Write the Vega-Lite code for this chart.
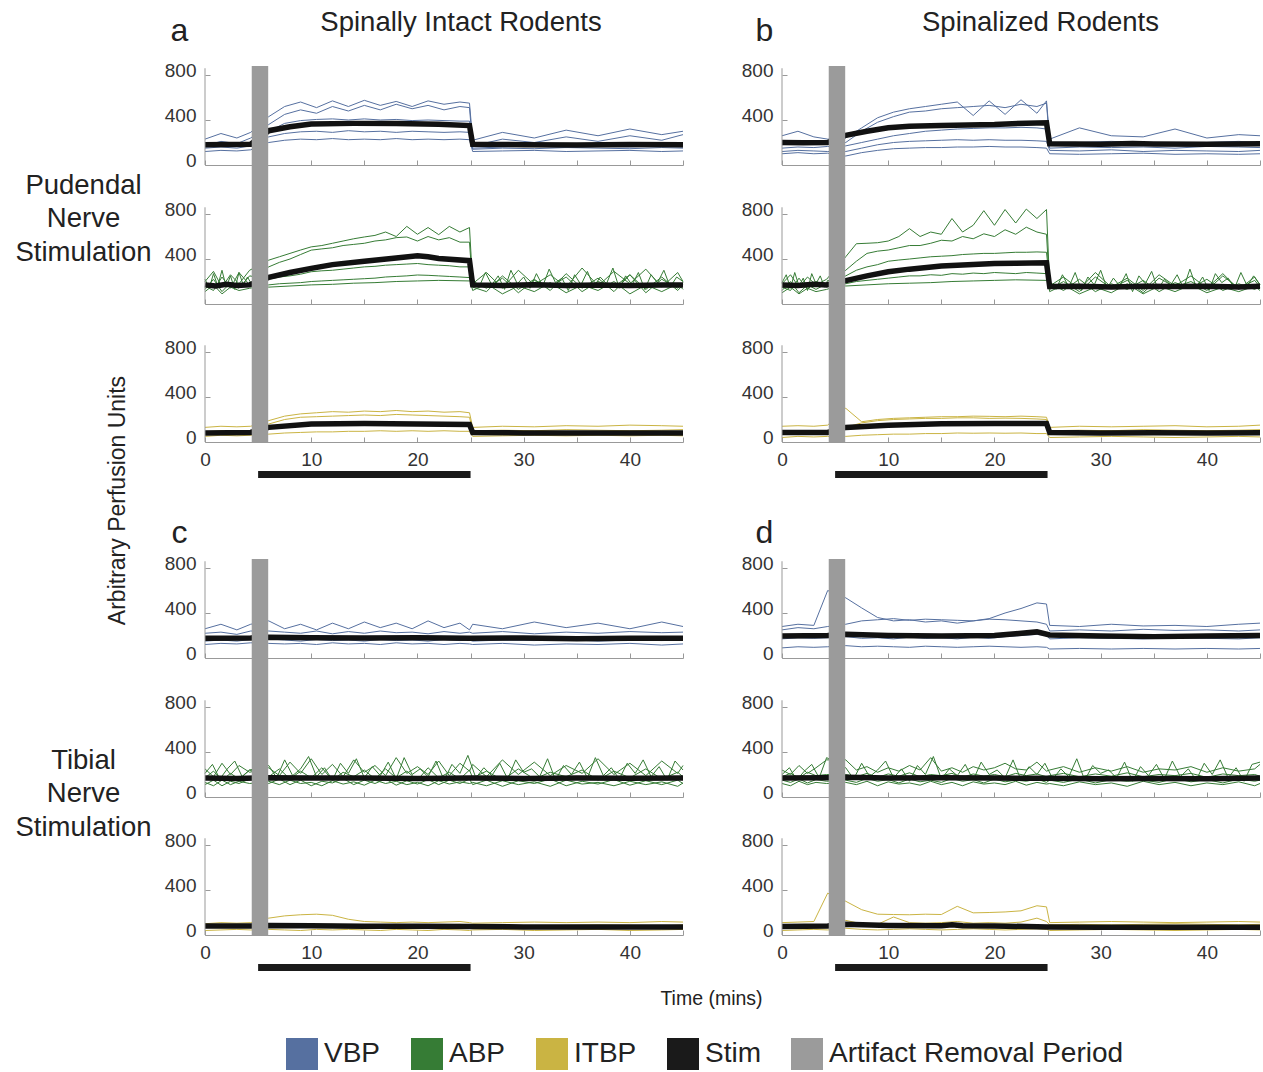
{
"$schema":"https://vega.github.io/schema/vega-lite/v6.json",
"background":"white",
"padding":{"left":14,"top":8,"right":4,"bottom":2},
"config":{
 "font":"Liberation Sans",
 "view":{"stroke":null},
 "axis":{"grid":false,"domainColor":"#999","tickColor":"#999","tickSize":-5,"labelFont":"Liberation Sans","labelFontSize":19,"labelColor":"#333","labelFlush":false,"labelOverlap":false,"titleFont":"Liberation Sans","titleFontWeight":"normal","titleColor":"#222"},
 "axisY":{"domain":false,"labelPadding":14,"labelOffset":-5},
 "axisX":{"labelPadding":13}
},
"datasets":{
"aV":[{"i":0,"t":0,"v":180},{"i":0,"t":2,"v":182},{"i":0,"t":4.3,"v":185},{"i":0,"t":6,"v":305},{"i":0,"t":8,"v":340},{"i":0,"t":10,"v":365},{"i":0,"t":14,"v":370},{"i":0,"t":18,"v":368},{"i":0,"t":22,"v":362},{"i":0,"t":24.9,"v":350},{"i":0,"t":25.2,"v":185},{"i":0,"t":30,"v":180},{"i":0,"t":35,"v":178},{"i":0,"t":40,"v":182},{"i":0,"t":45,"v":180},
{"i":1,"t":0,"v":230},{"i":1,"t":1.5,"v":280},{"i":1,"t":3,"v":240},{"i":1,"t":4.3,"v":290},{"i":1,"t":6,"v":430},{"i":1,"t":7.5,"v":520},{"i":1,"t":9,"v":560},{"i":1,"t":10.5,"v":510},{"i":1,"t":12,"v":570},{"i":1,"t":13.5,"v":520},{"i":1,"t":15,"v":575},{"i":1,"t":16.5,"v":530},{"i":1,"t":18,"v":565},{"i":1,"t":19.5,"v":520},{"i":1,"t":21,"v":570},{"i":1,"t":22.5,"v":540},{"i":1,"t":24,"v":560},{"i":1,"t":24.9,"v":550},{"i":1,"t":25.2,"v":220},{"i":1,"t":28,"v":290},{"i":1,"t":31,"v":240},{"i":1,"t":34,"v":310},{"i":1,"t":37,"v":260},{"i":1,"t":40,"v":320},{"i":1,"t":43,"v":270},{"i":1,"t":45,"v":300},
{"i":2,"t":0,"v":170},{"i":2,"t":1.5,"v":210},{"i":2,"t":3,"v":190},{"i":2,"t":4.3,"v":240},{"i":2,"t":6,"v":360},{"i":2,"t":7.5,"v":450},{"i":2,"t":9,"v":490},{"i":2,"t":10.5,"v":460},{"i":2,"t":12,"v":520},{"i":2,"t":13.5,"v":480},{"i":2,"t":15,"v":530},{"i":2,"t":16.5,"v":490},{"i":2,"t":18,"v":540},{"i":2,"t":19.5,"v":500},{"i":2,"t":21,"v":530},{"i":2,"t":22.5,"v":490},{"i":2,"t":24,"v":520},{"i":2,"t":24.9,"v":510},{"i":2,"t":25.2,"v":170},{"i":2,"t":28,"v":230},{"i":2,"t":31,"v":200},{"i":2,"t":34,"v":250},{"i":2,"t":37,"v":210},{"i":2,"t":40,"v":260},{"i":2,"t":43,"v":220},{"i":2,"t":45,"v":270},
{"i":3,"t":0,"v":150},{"i":3,"t":1.5,"v":160},{"i":3,"t":3,"v":150},{"i":3,"t":4.3,"v":170},{"i":3,"t":6,"v":300},{"i":3,"t":7.5,"v":370},{"i":3,"t":9,"v":395},{"i":3,"t":10.5,"v":405},{"i":3,"t":12,"v":410},{"i":3,"t":13.5,"v":400},{"i":3,"t":15,"v":410},{"i":3,"t":16.5,"v":400},{"i":3,"t":18,"v":405},{"i":3,"t":19.5,"v":395},{"i":3,"t":21,"v":400},{"i":3,"t":22.5,"v":395},{"i":3,"t":24,"v":390},{"i":3,"t":24.9,"v":390},{"i":3,"t":25.2,"v":150},{"i":3,"t":28,"v":160},{"i":3,"t":31,"v":170},{"i":3,"t":34,"v":155},{"i":3,"t":37,"v":165},{"i":3,"t":40,"v":160},{"i":3,"t":43,"v":170},{"i":3,"t":45,"v":160},
{"i":4,"t":0,"v":160},{"i":4,"t":1.5,"v":175},{"i":4,"t":3,"v":165},{"i":4,"t":4.3,"v":180},{"i":4,"t":6,"v":250},{"i":4,"t":7.5,"v":280},{"i":4,"t":9,"v":295},{"i":4,"t":10.5,"v":300},{"i":4,"t":12,"v":290},{"i":4,"t":13.5,"v":305},{"i":4,"t":15,"v":295},{"i":4,"t":16.5,"v":300},{"i":4,"t":18,"v":290},{"i":4,"t":19.5,"v":300},{"i":4,"t":21,"v":295},{"i":4,"t":22.5,"v":290},{"i":4,"t":24,"v":295},{"i":4,"t":24.9,"v":290},{"i":4,"t":25.2,"v":140},{"i":4,"t":28,"v":150},{"i":4,"t":31,"v":145},{"i":4,"t":34,"v":155},{"i":4,"t":37,"v":150},{"i":4,"t":40,"v":145},{"i":4,"t":43,"v":155},{"i":4,"t":45,"v":150},
{"i":5,"t":0,"v":120},{"i":5,"t":1.5,"v":130},{"i":5,"t":3,"v":125},{"i":5,"t":4.3,"v":135},{"i":5,"t":6,"v":200},{"i":5,"t":7.5,"v":220},{"i":5,"t":9,"v":230},{"i":5,"t":10.5,"v":225},{"i":5,"t":12,"v":235},{"i":5,"t":13.5,"v":225},{"i":5,"t":15,"v":230},{"i":5,"t":16.5,"v":225},{"i":5,"t":18,"v":235},{"i":5,"t":19.5,"v":225},{"i":5,"t":21,"v":230},{"i":5,"t":22.5,"v":225},{"i":5,"t":24,"v":230},{"i":5,"t":24.9,"v":225},{"i":5,"t":25.2,"v":120},{"i":5,"t":28,"v":125},{"i":5,"t":31,"v":130},{"i":5,"t":34,"v":120},{"i":5,"t":37,"v":125},{"i":5,"t":40,"v":130},{"i":5,"t":43,"v":120},{"i":5,"t":45,"v":125}],
"aA":[{"i":0,"t":0,"v":170},{"i":0,"t":1,"v":160},{"i":0,"t":2,"v":175},{"i":0,"t":3,"v":165},{"i":0,"t":4.2,"v":170},{"i":0,"t":6,"v":237},{"i":0,"t":8,"v":280},{"i":0,"t":10,"v":317},{"i":0,"t":12,"v":350},{"i":0,"t":15,"v":380},{"i":0,"t":18,"v":410},{"i":0,"t":20,"v":430},{"i":0,"t":21,"v":420},{"i":0,"t":22,"v":405},{"i":0,"t":24.9,"v":385},{"i":0,"t":25.2,"v":170},{"i":0,"t":28,"v":165},{"i":0,"t":31,"v":172},{"i":0,"t":34,"v":165},{"i":0,"t":37,"v":170},{"i":0,"t":40,"v":165},{"i":0,"t":43,"v":170},{"i":0,"t":45,"v":168},
{"i":1,"t":0,"v":200},{"i":1,"t":0.8,"v":290},{"i":1,"t":1.6,"v":150},{"i":1,"t":2.4,"v":260},{"i":1,"t":3.2,"v":180},{"i":1,"t":4.2,"v":300},{"i":1,"t":6,"v":390},{"i":1,"t":7,"v":420},{"i":1,"t":8,"v":450},{"i":1,"t":9,"v":480},{"i":1,"t":10,"v":508},{"i":1,"t":11,"v":520},{"i":1,"t":12,"v":540},{"i":1,"t":13,"v":560},{"i":1,"t":14,"v":580},{"i":1,"t":15,"v":596},{"i":1,"t":16,"v":610},{"i":1,"t":17,"v":640},{"i":1,"t":18,"v":600},{"i":1,"t":19,"v":690},{"i":1,"t":20,"v":620},{"i":1,"t":21,"v":680},{"i":1,"t":22,"v":617},{"i":1,"t":23,"v":690},{"i":1,"t":24,"v":640},{"i":1,"t":24.9,"v":680},{"i":1,"t":25.2,"v":180},{"i":1,"t":26.5,"v":280},{"i":1,"t":28,"v":140},{"i":1,"t":29.5,"v":300},{"i":1,"t":31,"v":170},{"i":1,"t":32.5,"v":260},{"i":1,"t":34,"v":150},{"i":1,"t":35.5,"v":320},{"i":1,"t":37,"v":160},{"i":1,"t":38.5,"v":290},{"i":1,"t":40,"v":180},{"i":1,"t":41.5,"v":310},{"i":1,"t":43,"v":150},{"i":1,"t":44.5,"v":280},{"i":1,"t":45,"v":200},
{"i":2,"t":0,"v":160},{"i":2,"t":0.8,"v":120},{"i":2,"t":1.6,"v":240},{"i":2,"t":2.4,"v":140},{"i":2,"t":3.2,"v":280},{"i":2,"t":4.2,"v":170},{"i":2,"t":6,"v":330},{"i":2,"t":7,"v":370},{"i":2,"t":8,"v":400},{"i":2,"t":9,"v":440},{"i":2,"t":10,"v":479},{"i":2,"t":11,"v":490},{"i":2,"t":12,"v":500},{"i":2,"t":13,"v":520},{"i":2,"t":14,"v":530},{"i":2,"t":15,"v":540},{"i":2,"t":16,"v":560},{"i":2,"t":17,"v":570},{"i":2,"t":18,"v":590},{"i":2,"t":19,"v":596},{"i":2,"t":20,"v":560},{"i":2,"t":21,"v":600},{"i":2,"t":22,"v":570},{"i":2,"t":23,"v":590},{"i":2,"t":24,"v":550},{"i":2,"t":24.9,"v":550},{"i":2,"t":25.2,"v":150},{"i":2,"t":26.5,"v":110},{"i":2,"t":28,"v":250},{"i":2,"t":29.5,"v":130},{"i":2,"t":31,"v":220},{"i":2,"t":32.5,"v":120},{"i":2,"t":34,"v":270},{"i":2,"t":35.5,"v":140},{"i":2,"t":37,"v":230},{"i":2,"t":38.5,"v":110},{"i":2,"t":40,"v":260},{"i":2,"t":41.5,"v":130},{"i":2,"t":43,"v":240},{"i":2,"t":44.5,"v":120},{"i":2,"t":45,"v":170},
{"i":3,"t":0,"v":130},{"i":3,"t":0.8,"v":220},{"i":3,"t":1.6,"v":110},{"i":3,"t":2.4,"v":190},{"i":3,"t":3.2,"v":140},{"i":3,"t":4.2,"v":250},{"i":3,"t":6,"v":220},{"i":3,"t":7,"v":240},{"i":3,"t":8,"v":250},{"i":3,"t":9,"v":265},{"i":3,"t":10,"v":287},{"i":3,"t":11,"v":295},{"i":3,"t":12,"v":300},{"i":3,"t":13,"v":310},{"i":3,"t":14,"v":320},{"i":3,"t":15,"v":330},{"i":3,"t":16,"v":335},{"i":3,"t":17,"v":345},{"i":3,"t":18,"v":350},{"i":3,"t":19,"v":355},{"i":3,"t":20,"v":360},{"i":3,"t":21,"v":350},{"i":3,"t":22,"v":345},{"i":3,"t":23,"v":340},{"i":3,"t":24,"v":330},{"i":3,"t":24.9,"v":330},{"i":3,"t":25.2,"v":200},{"i":3,"t":26.5,"v":140},{"i":3,"t":28,"v":230},{"i":3,"t":29.5,"v":100},{"i":3,"t":31,"v":210},{"i":3,"t":32.5,"v":150},{"i":3,"t":34,"v":240},{"i":3,"t":35.5,"v":110},{"i":3,"t":37,"v":200},{"i":3,"t":38.5,"v":150},{"i":3,"t":40,"v":260},{"i":3,"t":41.5,"v":100},{"i":3,"t":43,"v":220},{"i":3,"t":44.5,"v":140},{"i":3,"t":45,"v":190},
{"i":4,"t":0,"v":110},{"i":4,"t":0.8,"v":170},{"i":4,"t":1.6,"v":90},{"i":4,"t":2.4,"v":150},{"i":4,"t":3.2,"v":120},{"i":4,"t":4.2,"v":140},{"i":4,"t":6,"v":170},{"i":4,"t":7,"v":180},{"i":4,"t":8,"v":185},{"i":4,"t":9,"v":190},{"i":4,"t":10,"v":200},{"i":4,"t":11,"v":205},{"i":4,"t":12,"v":210},{"i":4,"t":13,"v":215},{"i":4,"t":14,"v":220},{"i":4,"t":15,"v":225},{"i":4,"t":16,"v":230},{"i":4,"t":17,"v":240},{"i":4,"t":18,"v":245},{"i":4,"t":19,"v":250},{"i":4,"t":20,"v":258},{"i":4,"t":21,"v":255},{"i":4,"t":22,"v":250},{"i":4,"t":23,"v":245},{"i":4,"t":24,"v":240},{"i":4,"t":24.9,"v":235},{"i":4,"t":25.2,"v":120},{"i":4,"t":26.5,"v":180},{"i":4,"t":28,"v":90},{"i":4,"t":29.5,"v":160},{"i":4,"t":31,"v":110},{"i":4,"t":32.5,"v":190},{"i":4,"t":34,"v":100},{"i":4,"t":35.5,"v":170},{"i":4,"t":37,"v":120},{"i":4,"t":38.5,"v":200},{"i":4,"t":40,"v":90},{"i":4,"t":41.5,"v":170},{"i":4,"t":43,"v":110},{"i":4,"t":44.5,"v":180},{"i":4,"t":45,"v":130},
{"i":5,"t":0,"v":220},{"i":5,"t":0.4,"v":140},{"i":5,"t":0.8,"v":270},{"i":5,"t":1.2,"v":160},{"i":5,"t":1.6,"v":300},{"i":5,"t":2,"v":150},{"i":5,"t":2.4,"v":250},{"i":5,"t":2.8,"v":130},{"i":5,"t":3.2,"v":280},{"i":5,"t":3.6,"v":170},{"i":5,"t":4,"v":240},{"i":5,"t":4.3,"v":190},{"i":5,"t":6,"v":150},{"i":5,"t":8,"v":160},{"i":5,"t":10,"v":170},{"i":5,"t":12,"v":175},{"i":5,"t":14,"v":185},{"i":5,"t":16,"v":190},{"i":5,"t":18,"v":200},{"i":5,"t":20,"v":205},{"i":5,"t":22,"v":210},{"i":5,"t":24.9,"v":205},{"i":5,"t":25.2,"v":230},{"i":5,"t":25.8,"v":150},{"i":5,"t":26.4,"v":280},{"i":5,"t":27,"v":170},{"i":5,"t":27.6,"v":250},{"i":5,"t":28.2,"v":130},{"i":5,"t":28.8,"v":300},{"i":5,"t":29.4,"v":180},{"i":5,"t":30,"v":240},{"i":5,"t":30.6,"v":140},{"i":5,"t":31.2,"v":270},{"i":5,"t":31.8,"v":160},{"i":5,"t":32.4,"v":310},{"i":5,"t":33,"v":190},{"i":5,"t":33.6,"v":230},{"i":5,"t":34.2,"v":120},{"i":5,"t":34.8,"v":260},{"i":5,"t":35.4,"v":170},{"i":5,"t":36,"v":290},{"i":5,"t":36.6,"v":150},{"i":5,"t":37.2,"v":240},{"i":5,"t":37.8,"v":180},{"i":5,"t":38.4,"v":320},{"i":5,"t":39,"v":140},{"i":5,"t":39.6,"v":250},{"i":5,"t":40.2,"v":170},{"i":5,"t":40.8,"v":280},{"i":5,"t":41.4,"v":130},{"i":5,"t":42,"v":260},{"i":5,"t":42.6,"v":190},{"i":5,"t":43.2,"v":300},{"i":5,"t":43.8,"v":150},{"i":5,"t":44.4,"v":240},{"i":5,"t":45,"v":200}],
"aI":[{"i":0,"t":0,"v":80},{"i":0,"t":4.3,"v":85},{"i":0,"t":6,"v":130},{"i":0,"t":10,"v":160},{"i":0,"t":15,"v":165},{"i":0,"t":20,"v":160},{"i":0,"t":24.9,"v":155},{"i":0,"t":25.2,"v":85},{"i":0,"t":30,"v":80},{"i":0,"t":45,"v":80},
{"i":1,"t":0,"v":130},{"i":1,"t":1.5,"v":140},{"i":1,"t":3,"v":135},{"i":1,"t":4.3,"v":140},{"i":1,"t":6,"v":190},{"i":1,"t":7.5,"v":230},{"i":1,"t":9,"v":250},{"i":1,"t":10.5,"v":260},{"i":1,"t":12,"v":270},{"i":1,"t":13.5,"v":265},{"i":1,"t":15,"v":275},{"i":1,"t":16.5,"v":270},{"i":1,"t":18,"v":280},{"i":1,"t":19.5,"v":270},{"i":1,"t":21,"v":275},{"i":1,"t":22.5,"v":265},{"i":1,"t":24,"v":270},{"i":1,"t":24.9,"v":260},{"i":1,"t":25.2,"v":130},{"i":1,"t":28,"v":140},{"i":1,"t":31,"v":135},{"i":1,"t":34,"v":145},{"i":1,"t":37,"v":140},{"i":1,"t":40,"v":150},{"i":1,"t":43,"v":145},{"i":1,"t":45,"v":140},
{"i":2,"t":0,"v":90},{"i":2,"t":1.5,"v":100},{"i":2,"t":3,"v":95},{"i":2,"t":4.3,"v":100},{"i":2,"t":6,"v":160},{"i":2,"t":7.5,"v":200},{"i":2,"t":9,"v":220},{"i":2,"t":10.5,"v":225},{"i":2,"t":12,"v":230},{"i":2,"t":13.5,"v":235},{"i":2,"t":15,"v":240},{"i":2,"t":16.5,"v":235},{"i":2,"t":18,"v":245},{"i":2,"t":19.5,"v":240},{"i":2,"t":21,"v":235},{"i":2,"t":22.5,"v":230},{"i":2,"t":24,"v":225},{"i":2,"t":24.9,"v":220},{"i":2,"t":25.2,"v":100},{"i":2,"t":28,"v":105},{"i":2,"t":31,"v":100},{"i":2,"t":34,"v":110},{"i":2,"t":37,"v":105},{"i":2,"t":40,"v":100},{"i":2,"t":43,"v":105},{"i":2,"t":45,"v":110},
{"i":3,"t":0,"v":50},{"i":3,"t":1.5,"v":60},{"i":3,"t":3,"v":55},{"i":3,"t":4.3,"v":60},{"i":3,"t":6,"v":70},{"i":3,"t":7.5,"v":80},{"i":3,"t":9,"v":85},{"i":3,"t":10.5,"v":90},{"i":3,"t":12,"v":90},{"i":3,"t":13.5,"v":95},{"i":3,"t":15,"v":95},{"i":3,"t":16.5,"v":100},{"i":3,"t":18,"v":95},{"i":3,"t":19.5,"v":100},{"i":3,"t":21,"v":95},{"i":3,"t":22.5,"v":100},{"i":3,"t":24,"v":95},{"i":3,"t":24.9,"v":95},{"i":3,"t":25.2,"v":50},{"i":3,"t":28,"v":55},{"i":3,"t":31,"v":60},{"i":3,"t":34,"v":55},{"i":3,"t":37,"v":60},{"i":3,"t":40,"v":55},{"i":3,"t":43,"v":60},{"i":3,"t":45,"v":55}],
"bV":[{"i":0,"t":0,"v":200},{"i":0,"t":2,"v":198},{"i":0,"t":4.3,"v":200},{"i":0,"t":6,"v":264},{"i":0,"t":8,"v":300},{"i":0,"t":10,"v":331},{"i":0,"t":12,"v":345},{"i":0,"t":15,"v":351},{"i":0,"t":20,"v":360},{"i":0,"t":23,"v":372},{"i":0,"t":24.9,"v":375},{"i":0,"t":25.2,"v":188},{"i":0,"t":30,"v":185},{"i":0,"t":33,"v":190},{"i":0,"t":35,"v":187},{"i":0,"t":40,"v":185},{"i":0,"t":45,"v":188},
{"i":1,"t":0,"v":260},{"i":1,"t":1.5,"v":300},{"i":1,"t":3,"v":250},{"i":1,"t":4.3,"v":230},{"i":1,"t":6,"v":240},{"i":1,"t":7.5,"v":330},{"i":1,"t":9,"v":420},{"i":1,"t":10.5,"v":470},{"i":1,"t":12,"v":500},{"i":1,"t":13.5,"v":520},{"i":1,"t":15,"v":540},{"i":1,"t":16.5,"v":560},{"i":1,"t":18,"v":440},{"i":1,"t":19.5,"v":570},{"i":1,"t":21,"v":450},{"i":1,"t":22.5,"v":580},{"i":1,"t":24,"v":460},{"i":1,"t":24.9,"v":570},{"i":1,"t":25.2,"v":230},{"i":1,"t":28,"v":330},{"i":1,"t":31,"v":260},{"i":1,"t":34,"v":250},{"i":1,"t":37,"v":320},{"i":1,"t":40,"v":240},{"i":1,"t":43,"v":270},{"i":1,"t":45,"v":260},
{"i":2,"t":0,"v":180},{"i":2,"t":1.5,"v":200},{"i":2,"t":3,"v":190},{"i":2,"t":4.3,"v":210},{"i":2,"t":6,"v":200},{"i":2,"t":7.5,"v":300},{"i":2,"t":9,"v":380},{"i":2,"t":10.5,"v":430},{"i":2,"t":12,"v":470},{"i":2,"t":13.5,"v":480},{"i":2,"t":15,"v":500},{"i":2,"t":16.5,"v":510},{"i":2,"t":18,"v":520},{"i":2,"t":19.5,"v":530},{"i":2,"t":21,"v":510},{"i":2,"t":22.5,"v":540},{"i":2,"t":24,"v":520},{"i":2,"t":24.9,"v":550},{"i":2,"t":25.2,"v":190},{"i":2,"t":28,"v":200},{"i":2,"t":31,"v":210},{"i":2,"t":34,"v":200},{"i":2,"t":37,"v":190},{"i":2,"t":40,"v":200},{"i":2,"t":43,"v":210},{"i":2,"t":45,"v":200},
{"i":3,"t":0,"v":150},{"i":3,"t":1.5,"v":160},{"i":3,"t":3,"v":155},{"i":3,"t":4.3,"v":165},{"i":3,"t":6,"v":170},{"i":3,"t":7.5,"v":200},{"i":3,"t":9,"v":230},{"i":3,"t":10.5,"v":260},{"i":3,"t":12,"v":280},{"i":3,"t":13.5,"v":300},{"i":3,"t":15,"v":310},{"i":3,"t":16.5,"v":320},{"i":3,"t":18,"v":325},{"i":3,"t":19.5,"v":330},{"i":3,"t":21,"v":330},{"i":3,"t":22.5,"v":335},{"i":3,"t":24,"v":330},{"i":3,"t":24.9,"v":320},{"i":3,"t":25.2,"v":150},{"i":3,"t":28,"v":160},{"i":3,"t":31,"v":155},{"i":3,"t":34,"v":160},{"i":3,"t":37,"v":150},{"i":3,"t":40,"v":165},{"i":3,"t":43,"v":160},{"i":3,"t":45,"v":155},
{"i":4,"t":0,"v":120},{"i":4,"t":1.5,"v":130},{"i":4,"t":3,"v":125},{"i":4,"t":4.3,"v":120},{"i":4,"t":6,"v":120},{"i":4,"t":7.5,"v":150},{"i":4,"t":9,"v":180},{"i":4,"t":10.5,"v":200},{"i":4,"t":12,"v":210},{"i":4,"t":13.5,"v":215},{"i":4,"t":15,"v":220},{"i":4,"t":16.5,"v":225},{"i":4,"t":18,"v":220},{"i":4,"t":19.5,"v":225},{"i":4,"t":21,"v":220},{"i":4,"t":22.5,"v":220},{"i":4,"t":24,"v":215},{"i":4,"t":24.9,"v":210},{"i":4,"t":25.2,"v":130},{"i":4,"t":28,"v":125},{"i":4,"t":31,"v":135},{"i":4,"t":34,"v":120},{"i":4,"t":37,"v":130},{"i":4,"t":40,"v":125},{"i":4,"t":43,"v":120},{"i":4,"t":45,"v":130},
{"i":5,"t":0,"v":100},{"i":5,"t":1.5,"v":110},{"i":5,"t":3,"v":100},{"i":5,"t":4.3,"v":105},{"i":5,"t":6,"v":80},{"i":5,"t":7.5,"v":110},{"i":5,"t":9,"v":130},{"i":5,"t":10.5,"v":145},{"i":5,"t":12,"v":150},{"i":5,"t":13.5,"v":155},{"i":5,"t":15,"v":155},{"i":5,"t":16.5,"v":160},{"i":5,"t":18,"v":160},{"i":5,"t":19.5,"v":165},{"i":5,"t":21,"v":160},{"i":5,"t":22.5,"v":160},{"i":5,"t":24,"v":155},{"i":5,"t":24.9,"v":150},{"i":5,"t":25.2,"v":100},{"i":5,"t":28,"v":95},{"i":5,"t":31,"v":100},{"i":5,"t":34,"v":105},{"i":5,"t":37,"v":95},{"i":5,"t":40,"v":100},{"i":5,"t":43,"v":95},{"i":5,"t":45,"v":100}],
"bA":[{"i":0,"t":0,"v":170},{"i":0,"t":1.5,"v":165},{"i":0,"t":3,"v":175},{"i":0,"t":4.2,"v":170},{"i":0,"t":6,"v":208},{"i":0,"t":8,"v":250},{"i":0,"t":10,"v":287},{"i":0,"t":12,"v":310},{"i":0,"t":15,"v":337},{"i":0,"t":18,"v":352},{"i":0,"t":20,"v":360},{"i":0,"t":22,"v":362},{"i":0,"t":24.9,"v":366},{"i":0,"t":25.2,"v":155},{"i":0,"t":28,"v":158},{"i":0,"t":31,"v":152},{"i":0,"t":34,"v":158},{"i":0,"t":37,"v":155},{"i":0,"t":40,"v":158},{"i":0,"t":43,"v":152},{"i":0,"t":45,"v":157},
{"i":1,"t":0,"v":180},{"i":1,"t":0.8,"v":260},{"i":1,"t":1.6,"v":150},{"i":1,"t":2.4,"v":240},{"i":1,"t":3.2,"v":170},{"i":1,"t":4.2,"v":220},{"i":1,"t":6,"v":420},{"i":1,"t":7,"v":536},{"i":1,"t":8,"v":540},{"i":1,"t":9,"v":545},{"i":1,"t":10,"v":560},{"i":1,"t":11,"v":600},{"i":1,"t":12,"v":670},{"i":1,"t":13,"v":600},{"i":1,"t":14,"v":640},{"i":1,"t":15,"v":620},{"i":1,"t":16,"v":760},{"i":1,"t":17,"v":640},{"i":1,"t":18,"v":700},{"i":1,"t":19,"v":830},{"i":1,"t":20,"v":700},{"i":1,"t":21,"v":840},{"i":1,"t":22,"v":720},{"i":1,"t":23,"v":844},{"i":1,"t":24,"v":760},{"i":1,"t":24.9,"v":840},{"i":1,"t":25.2,"v":160},{"i":1,"t":26.5,"v":240},{"i":1,"t":28,"v":130},{"i":1,"t":29.5,"v":280},{"i":1,"t":31,"v":150},{"i":1,"t":32.5,"v":230},{"i":1,"t":34,"v":120},{"i":1,"t":35.5,"v":260},{"i":1,"t":37,"v":160},{"i":1,"t":38.5,"v":250},{"i":1,"t":40,"v":140},{"i":1,"t":41.5,"v":270},{"i":1,"t":43,"v":130},{"i":1,"t":44.5,"v":240},{"i":1,"t":45,"v":170},
{"i":2,"t":0,"v":150},{"i":2,"t":0.8,"v":120},{"i":2,"t":1.6,"v":230},{"i":2,"t":2.4,"v":130},{"i":2,"t":3.2,"v":200},{"i":2,"t":4.2,"v":160},{"i":2,"t":6,"v":300},{"i":2,"t":7,"v":380},{"i":2,"t":8,"v":450},{"i":2,"t":9,"v":470},{"i":2,"t":10,"v":480},{"i":2,"t":11,"v":500},{"i":2,"t":12,"v":520},{"i":2,"t":13,"v":520},{"i":2,"t":14,"v":540},{"i":2,"t":15,"v":567},{"i":2,"t":16,"v":560},{"i":2,"t":17,"v":600},{"i":2,"t":18,"v":580},{"i":2,"t":19,"v":624},{"i":2,"t":20,"v":600},{"i":2,"t":21,"v":660},{"i":2,"t":22,"v":620},{"i":2,"t":23,"v":683},{"i":2,"t":24,"v":640},{"i":2,"t":24.9,"v":620},{"i":2,"t":25.2,"v":130},{"i":2,"t":26.5,"v":200},{"i":2,"t":28,"v":110},{"i":2,"t":29.5,"v":240},{"i":2,"t":31,"v":140},{"i":2,"t":32.5,"v":210},{"i":2,"t":34,"v":100},{"i":2,"t":35.5,"v":230},{"i":2,"t":37,"v":150},{"i":2,"t":38.5,"v":200},{"i":2,"t":40,"v":120},{"i":2,"t":41.5,"v":250},{"i":2,"t":43,"v":140},{"i":2,"t":44.5,"v":210},{"i":2,"t":45,"v":150},
{"i":3,"t":0,"v":120},{"i":3,"t":0.8,"v":200},{"i":3,"t":1.6,"v":100},{"i":3,"t":2.4,"v":170},{"i":3,"t":3.2,"v":130},{"i":3,"t":4.2,"v":180},{"i":3,"t":6,"v":250},{"i":3,"t":7,"v":300},{"i":3,"t":8,"v":330},{"i":3,"t":9,"v":350},{"i":3,"t":10,"v":380},{"i":3,"t":11,"v":391},{"i":3,"t":12,"v":400},{"i":3,"t":13,"v":410},{"i":3,"t":14,"v":420},{"i":3,"t":15,"v":425},{"i":3,"t":16,"v":430},{"i":3,"t":17,"v":440},{"i":3,"t":18,"v":445},{"i":3,"t":19,"v":450},{"i":3,"t":20,"v":450},{"i":3,"t":21,"v":455},{"i":3,"t":22,"v":460},{"i":3,"t":23,"v":460},{"i":3,"t":24,"v":463},{"i":3,"t":24.9,"v":460},{"i":3,"t":25.2,"v":190},{"i":3,"t":26.5,"v":120},{"i":3,"t":28,"v":220},{"i":3,"t":29.5,"v":110},{"i":3,"t":31,"v":180},{"i":3,"t":32.5,"v":130},{"i":3,"t":34,"v":210},{"i":3,"t":35.5,"v":110},{"i":3,"t":37,"v":190},{"i":3,"t":38.5,"v":140},{"i":3,"t":40,"v":220},{"i":3,"t":41.5,"v":120},{"i":3,"t":43,"v":180},{"i":3,"t":44.5,"v":130},{"i":3,"t":45,"v":160},
{"i":4,"t":0,"v":100},{"i":4,"t":0.8,"v":150},{"i":4,"t":1.6,"v":90},{"i":4,"t":2.4,"v":140},{"i":4,"t":3.2,"v":110},{"i":4,"t":4.2,"v":130},{"i":4,"t":6,"v":180},{"i":4,"t":7,"v":200},{"i":4,"t":8,"v":210},{"i":4,"t":9,"v":220},{"i":4,"t":10,"v":230},{"i":4,"t":11,"v":240},{"i":4,"t":12,"v":250},{"i":4,"t":13,"v":250},{"i":4,"t":14,"v":260},{"i":4,"t":15,"v":255},{"i":4,"t":16,"v":270},{"i":4,"t":17,"v":265},{"i":4,"t":18,"v":275},{"i":4,"t":19,"v":270},{"i":4,"t":20,"v":280},{"i":4,"t":21,"v":275},{"i":4,"t":22,"v":270},{"i":4,"t":23,"v":280},{"i":4,"t":24,"v":275},{"i":4,"t":24.9,"v":270},{"i":4,"t":25.2,"v":110},{"i":4,"t":26.5,"v":170},{"i":4,"t":28,"v":90},{"i":4,"t":29.5,"v":150},{"i":4,"t":31,"v":100},{"i":4,"t":32.5,"v":180},{"i":4,"t":34,"v":90},{"i":4,"t":35.5,"v":160},{"i":4,"t":37,"v":110},{"i":4,"t":38.5,"v":170},{"i":4,"t":40,"v":100},{"i":4,"t":41.5,"v":150},{"i":4,"t":43,"v":110},{"i":4,"t":44.5,"v":160},{"i":4,"t":45,"v":120},
{"i":5,"t":0,"v":190},{"i":5,"t":0.4,"v":260},{"i":5,"t":0.8,"v":140},{"i":5,"t":1.2,"v":280},{"i":5,"t":1.6,"v":160},{"i":5,"t":2,"v":230},{"i":5,"t":2.4,"v":120},{"i":5,"t":2.8,"v":270},{"i":5,"t":3.2,"v":180},{"i":5,"t":3.6,"v":250},{"i":5,"t":4,"v":150},{"i":5,"t":4.3,"v":210},{"i":5,"t":6,"v":160},{"i":5,"t":8,"v":170},{"i":5,"t":10,"v":180},{"i":5,"t":12,"v":185},{"i":5,"t":14,"v":190},{"i":5,"t":16,"v":200},{"i":5,"t":18,"v":205},{"i":5,"t":20,"v":210},{"i":5,"t":22,"v":215},{"i":5,"t":24.9,"v":210},{"i":5,"t":25.2,"v":200},{"i":5,"t":25.8,"v":130},{"i":5,"t":26.4,"v":260},{"i":5,"t":27,"v":150},{"i":5,"t":27.6,"v":280},{"i":5,"t":28.2,"v":120},{"i":5,"t":28.8,"v":240},{"i":5,"t":29.4,"v":170},{"i":5,"t":30,"v":300},{"i":5,"t":30.6,"v":140},{"i":5,"t":31.2,"v":230},{"i":5,"t":31.8,"v":160},{"i":5,"t":32.4,"v":270},{"i":5,"t":33,"v":110},{"i":5,"t":33.6,"v":250},{"i":5,"t":34.2,"v":180},{"i":5,"t":34.8,"v":290},{"i":5,"t":35.4,"v":130},{"i":5,"t":36,"v":220},{"i":5,"t":36.6,"v":170},{"i":5,"t":37.2,"v":260},{"i":5,"t":37.8,"v":140},{"i":5,"t":38.4,"v":310},{"i":5,"t":39,"v":150},{"i":5,"t":39.6,"v":240},{"i":5,"t":40.2,"v":120},{"i":5,"t":40.8,"v":270},{"i":5,"t":41.4,"v":190},{"i":5,"t":42,"v":230},{"i":5,"t":42.6,"v":140},{"i":5,"t":43.2,"v":280},{"i":5,"t":43.8,"v":160},{"i":5,"t":44.4,"v":250},{"i":5,"t":45,"v":170}],
"bI":[{"i":0,"t":0,"v":85},{"i":0,"t":4.3,"v":85},{"i":0,"t":6,"v":130},{"i":0,"t":10,"v":150},{"i":0,"t":15,"v":162},{"i":0,"t":20,"v":165},{"i":0,"t":24.9,"v":165},{"i":0,"t":25.2,"v":85},{"i":0,"t":30,"v":80},{"i":0,"t":35,"v":82},{"i":0,"t":40,"v":80},{"i":0,"t":45,"v":82},
{"i":1,"t":0,"v":140},{"i":1,"t":1.5,"v":145},{"i":1,"t":3,"v":140},{"i":1,"t":4.3,"v":150},{"i":1,"t":6,"v":300},{"i":1,"t":7.5,"v":180},{"i":1,"t":9,"v":200},{"i":1,"t":10.5,"v":210},{"i":1,"t":12,"v":215},{"i":1,"t":13.5,"v":220},{"i":1,"t":15,"v":225},{"i":1,"t":16.5,"v":225},{"i":1,"t":18,"v":230},{"i":1,"t":19.5,"v":228},{"i":1,"t":21,"v":225},{"i":1,"t":22.5,"v":230},{"i":1,"t":24,"v":225},{"i":1,"t":24.9,"v":220},{"i":1,"t":25.2,"v":130},{"i":1,"t":28,"v":140},{"i":1,"t":31,"v":135},{"i":1,"t":34,"v":140},{"i":1,"t":37,"v":145},{"i":1,"t":40,"v":135},{"i":1,"t":43,"v":140},{"i":1,"t":45,"v":150},
{"i":2,"t":0,"v":95},{"i":2,"t":1.5,"v":100},{"i":2,"t":3,"v":95},{"i":2,"t":4.3,"v":100},{"i":2,"t":6,"v":130},{"i":2,"t":7.5,"v":170},{"i":2,"t":9,"v":190},{"i":2,"t":10.5,"v":200},{"i":2,"t":12,"v":205},{"i":2,"t":13.5,"v":210},{"i":2,"t":15,"v":210},{"i":2,"t":16.5,"v":215},{"i":2,"t":18,"v":215},{"i":2,"t":19.5,"v":210},{"i":2,"t":21,"v":212},{"i":2,"t":22.5,"v":210},{"i":2,"t":24,"v":205},{"i":2,"t":24.9,"v":200},{"i":2,"t":25.2,"v":100},{"i":2,"t":28,"v":105},{"i":2,"t":31,"v":100},{"i":2,"t":34,"v":110},{"i":2,"t":37,"v":105},{"i":2,"t":40,"v":100},{"i":2,"t":43,"v":105},{"i":2,"t":45,"v":110},
{"i":3,"t":0,"v":40},{"i":3,"t":1.5,"v":50},{"i":3,"t":3,"v":45},{"i":3,"t":4.3,"v":50},{"i":3,"t":6,"v":50},{"i":3,"t":7.5,"v":60},{"i":3,"t":9,"v":65},{"i":3,"t":10.5,"v":70},{"i":3,"t":12,"v":70},{"i":3,"t":13.5,"v":75},{"i":3,"t":15,"v":75},{"i":3,"t":16.5,"v":80},{"i":3,"t":18,"v":78},{"i":3,"t":19.5,"v":80},{"i":3,"t":21,"v":78},{"i":3,"t":22.5,"v":80},{"i":3,"t":24,"v":75},{"i":3,"t":24.9,"v":75},{"i":3,"t":25.2,"v":40},{"i":3,"t":28,"v":45},{"i":3,"t":31,"v":50},{"i":3,"t":34,"v":45},{"i":3,"t":37,"v":40},{"i":3,"t":40,"v":45},{"i":3,"t":43,"v":50},{"i":3,"t":45,"v":45}],
"cV":[{"i":0,"t":0,"v":175},{"i":0,"t":4.3,"v":178},{"i":0,"t":6,"v":185},{"i":0,"t":10,"v":180},{"i":0,"t":15,"v":178},{"i":0,"t":20,"v":180},{"i":0,"t":25,"v":175},{"i":0,"t":30,"v":178},{"i":0,"t":35,"v":172},{"i":0,"t":40,"v":175},{"i":0,"t":45,"v":175},
{"i":1,"t":0,"v":260},{"i":1,"t":1.5,"v":300},{"i":1,"t":3,"v":250},{"i":1,"t":4.3,"v":300},{"i":1,"t":6,"v":330},{"i":1,"t":7.5,"v":260},{"i":1,"t":9,"v":300},{"i":1,"t":10.5,"v":250},{"i":1,"t":12,"v":310},{"i":1,"t":13.5,"v":260},{"i":1,"t":15,"v":320},{"i":1,"t":16.5,"v":270},{"i":1,"t":18,"v":310},{"i":1,"t":19.5,"v":260},{"i":1,"t":21,"v":330},{"i":1,"t":22.5,"v":270},{"i":1,"t":24,"v":310},{"i":1,"t":24.9,"v":250},{"i":1,"t":25.2,"v":300},{"i":1,"t":28,"v":260},{"i":1,"t":31,"v":320},{"i":1,"t":34,"v":270},{"i":1,"t":37,"v":310},{"i":1,"t":40,"v":260},{"i":1,"t":43,"v":320},{"i":1,"t":45,"v":280},
{"i":2,"t":0,"v":220},{"i":2,"t":1.5,"v":230},{"i":2,"t":3,"v":210},{"i":2,"t":4.3,"v":240},{"i":2,"t":6,"v":240},{"i":2,"t":7.5,"v":230},{"i":2,"t":9,"v":220},{"i":2,"t":10.5,"v":240},{"i":2,"t":12,"v":215},{"i":2,"t":13.5,"v":235},{"i":2,"t":15,"v":220},{"i":2,"t":16.5,"v":240},{"i":2,"t":18,"v":225},{"i":2,"t":19.5,"v":230},{"i":2,"t":21,"v":215},{"i":2,"t":22.5,"v":235},{"i":2,"t":24,"v":220},{"i":2,"t":24.9,"v":230},{"i":2,"t":25.2,"v":220},{"i":2,"t":28,"v":235},{"i":2,"t":31,"v":215},{"i":2,"t":34,"v":230},{"i":2,"t":37,"v":220},{"i":2,"t":40,"v":235},{"i":2,"t":43,"v":225},{"i":2,"t":45,"v":230},
{"i":3,"t":0,"v":150},{"i":3,"t":1.5,"v":160},{"i":3,"t":3,"v":150},{"i":3,"t":4.3,"v":165},{"i":3,"t":6,"v":170},{"i":3,"t":7.5,"v":160},{"i":3,"t":9,"v":150},{"i":3,"t":10.5,"v":165},{"i":3,"t":12,"v":155},{"i":3,"t":13.5,"v":160},{"i":3,"t":15,"v":150},{"i":3,"t":16.5,"v":165},{"i":3,"t":18,"v":155},{"i":3,"t":19.5,"v":160},{"i":3,"t":21,"v":150},{"i":3,"t":22.5,"v":165},{"i":3,"t":24,"v":155},{"i":3,"t":24.9,"v":160},{"i":3,"t":25.2,"v":150},{"i":3,"t":28,"v":160},{"i":3,"t":31,"v":155},{"i":3,"t":34,"v":165},{"i":3,"t":37,"v":150},{"i":3,"t":40,"v":160},{"i":3,"t":43,"v":155},{"i":3,"t":45,"v":160},
{"i":4,"t":0,"v":120},{"i":4,"t":1.5,"v":130},{"i":4,"t":3,"v":125},{"i":4,"t":4.3,"v":135},{"i":4,"t":6,"v":130},{"i":4,"t":7.5,"v":125},{"i":4,"t":9,"v":130},{"i":4,"t":10.5,"v":120},{"i":4,"t":12,"v":135},{"i":4,"t":13.5,"v":125},{"i":4,"t":15,"v":130},{"i":4,"t":16.5,"v":120},{"i":4,"t":18,"v":135},{"i":4,"t":19.5,"v":125},{"i":4,"t":21,"v":130},{"i":4,"t":22.5,"v":120},{"i":4,"t":24,"v":130},{"i":4,"t":24.9,"v":125},{"i":4,"t":25.2,"v":120},{"i":4,"t":28,"v":130},{"i":4,"t":31,"v":115},{"i":4,"t":34,"v":125},{"i":4,"t":37,"v":120},{"i":4,"t":40,"v":130},{"i":4,"t":43,"v":115},{"i":4,"t":45,"v":125}],
"cA":[{"i":0,"t":0,"v":170},{"i":0,"t":3,"v":165},{"i":0,"t":6,"v":172},{"i":0,"t":10,"v":168},{"i":0,"t":15,"v":170},{"i":0,"t":20,"v":165},{"i":0,"t":25,"v":168},{"i":0,"t":30,"v":165},{"i":0,"t":35,"v":170},{"i":0,"t":40,"v":166},{"i":0,"t":45,"v":168},
{"i":1,"t":0,"v":250},{"i":1,"t":0.8,"v":180},{"i":1,"t":1.6,"v":300},{"i":1,"t":2.4,"v":200},{"i":1,"t":3.2,"v":280},{"i":1,"t":4.2,"v":220},{"i":1,"t":6,"v":260},{"i":1,"t":7,"v":190},{"i":1,"t":8,"v":310},{"i":1,"t":9,"v":210},{"i":1,"t":10,"v":340},{"i":1,"t":11,"v":200},{"i":1,"t":12,"v":290},{"i":1,"t":13,"v":180},{"i":1,"t":14,"v":330},{"i":1,"t":15,"v":220},{"i":1,"t":16,"v":280},{"i":1,"t":17,"v":190},{"i":1,"t":18,"v":350},{"i":1,"t":19,"v":210},{"i":1,"t":20,"v":270},{"i":1,"t":21,"v":200},{"i":1,"t":22,"v":320},{"i":1,"t":23,"v":190},{"i":1,"t":24,"v":300},{"i":1,"t":24.9,"v":230},{"i":1,"t":25.2,"v":290},{"i":1,"t":26.5,"v":180},{"i":1,"t":28,"v":330},{"i":1,"t":29.5,"v":200},{"i":1,"t":31,"v":310},{"i":1,"t":32.5,"v":190},{"i":1,"t":34,"v":280},{"i":1,"t":35.5,"v":210},{"i":1,"t":37,"v":340},{"i":1,"t":38.5,"v":200},{"i":1,"t":40,"v":300},{"i":1,"t":41.5,"v":190},{"i":1,"t":43,"v":320},{"i":1,"t":44.5,"v":210},{"i":1,"t":45,"v":280},
{"i":2,"t":0,"v":170},{"i":2,"t":0.8,"v":230},{"i":2,"t":1.6,"v":150},{"i":2,"t":2.4,"v":210},{"i":2,"t":3.2,"v":160},{"i":2,"t":4.2,"v":240},{"i":2,"t":6,"v":180},{"i":2,"t":7,"v":250},{"i":2,"t":8,"v":160},{"i":2,"t":9,"v":230},{"i":2,"t":10,"v":170},{"i":2,"t":11,"v":260},{"i":2,"t":12,"v":150},{"i":2,"t":13,"v":220},{"i":2,"t":14,"v":180},{"i":2,"t":15,"v":240},{"i":2,"t":16,"v":160},{"i":2,"t":17,"v":250},{"i":2,"t":18,"v":170},{"i":2,"t":19,"v":230},{"i":2,"t":20,"v":150},{"i":2,"t":21,"v":260},{"i":2,"t":22,"v":170},{"i":2,"t":23,"v":220},{"i":2,"t":24,"v":160},{"i":2,"t":24.9,"v":240},{"i":2,"t":25.2,"v":170},{"i":2,"t":26.5,"v":230},{"i":2,"t":28,"v":150},{"i":2,"t":29.5,"v":250},{"i":2,"t":31,"v":160},{"i":2,"t":32.5,"v":220},{"i":2,"t":34,"v":180},{"i":2,"t":35.5,"v":240},{"i":2,"t":37,"v":150},{"i":2,"t":38.5,"v":230},{"i":2,"t":40,"v":170},{"i":2,"t":41.5,"v":250},{"i":2,"t":43,"v":160},{"i":2,"t":44.5,"v":220},{"i":2,"t":45,"v":180},
{"i":3,"t":0,"v":130},{"i":3,"t":0.8,"v":100},{"i":3,"t":1.6,"v":150},{"i":3,"t":2.4,"v":110},{"i":3,"t":3.2,"v":140},{"i":3,"t":4.2,"v":120},{"i":3,"t":6,"v":140},{"i":3,"t":7,"v":110},{"i":3,"t":8,"v":150},{"i":3,"t":9,"v":120},{"i":3,"t":10,"v":130},{"i":3,"t":11,"v":100},{"i":3,"t":12,"v":145},{"i":3,"t":13,"v":115},{"i":3,"t":14,"v":135},{"i":3,"t":15,"v":105},{"i":3,"t":16,"v":150},{"i":3,"t":17,"v":120},{"i":3,"t":18,"v":140},{"i":3,"t":19,"v":110},{"i":3,"t":20,"v":130},{"i":3,"t":21,"v":100},{"i":3,"t":22,"v":145},{"i":3,"t":23,"v":115},{"i":3,"t":24,"v":135},{"i":3,"t":24.9,"v":120},{"i":3,"t":25.2,"v":130},{"i":3,"t":26.5,"v":100},{"i":3,"t":28,"v":145},{"i":3,"t":29.5,"v":110},{"i":3,"t":31,"v":135},{"i":3,"t":32.5,"v":95},{"i":3,"t":34,"v":150},{"i":3,"t":35.5,"v":115},{"i":3,"t":37,"v":130},{"i":3,"t":38.5,"v":100},{"i":3,"t":40,"v":140},{"i":3,"t":41.5,"v":110},{"i":3,"t":43,"v":135},{"i":3,"t":44.5,"v":95},{"i":3,"t":45,"v":125},
{"i":4,"t":0,"v":110},{"i":4,"t":0.8,"v":150},{"i":4,"t":1.6,"v":100},{"i":4,"t":2.4,"v":140},{"i":4,"t":3.2,"v":120},{"i":4,"t":4.2,"v":160},{"i":4,"t":6,"v":120},{"i":4,"t":7,"v":160},{"i":4,"t":8,"v":110},{"i":4,"t":9,"v":150},{"i":4,"t":10,"v":100},{"i":4,"t":11,"v":140},{"i":4,"t":12,"v":125},{"i":4,"t":13,"v":165},{"i":4,"t":14,"v":110},{"i":4,"t":15,"v":150},{"i":4,"t":16,"v":120},{"i":4,"t":17,"v":160},{"i":4,"t":18,"v":105},{"i":4,"t":19,"v":145},{"i":4,"t":20,"v":115},{"i":4,"t":21,"v":155},{"i":4,"t":22,"v":110},{"i":4,"t":23,"v":150},{"i":4,"t":24,"v":120},{"i":4,"t":24.9,"v":160},{"i":4,"t":25.2,"v":110},{"i":4,"t":26.5,"v":150},{"i":4,"t":28,"v":95},{"i":4,"t":29.5,"v":145},{"i":4,"t":31,"v":120},{"i":4,"t":32.5,"v":160},{"i":4,"t":34,"v":100},{"i":4,"t":35.5,"v":140},{"i":4,"t":37,"v":115},{"i":4,"t":38.5,"v":155},{"i":4,"t":40,"v":105},{"i":4,"t":41.5,"v":145},{"i":4,"t":43,"v":110},{"i":4,"t":44.5,"v":150},{"i":4,"t":45,"v":120},
{"i":5,"t":0,"v":210},{"i":5,"t":0.7,"v":290},{"i":5,"t":1.4,"v":160},{"i":5,"t":2.1,"v":250},{"i":5,"t":2.8,"v":320},{"i":5,"t":3.5,"v":180},{"i":5,"t":4.2,"v":240},{"i":5,"t":6,"v":280},{"i":5,"t":6.75,"v":170},{"i":5,"t":7.5,"v":330},{"i":5,"t":8.25,"v":190},{"i":5,"t":9,"v":250},{"i":5,"t":9.75,"v":360},{"i":5,"t":10.5,"v":180},{"i":5,"t":11.25,"v":260},{"i":5,"t":12,"v":150},{"i":5,"t":12.75,"v":300},{"i":5,"t":13.5,"v":210},{"i":5,"t":14.25,"v":340},{"i":5,"t":15,"v":170},{"i":5,"t":15.75,"v":270},{"i":5,"t":16.5,"v":190},{"i":5,"t":17.25,"v":310},{"i":5,"t":18,"v":160},{"i":5,"t":18.75,"v":350},{"i":5,"t":19.5,"v":200},{"i":5,"t":20.25,"v":250},{"i":5,"t":21,"v":180},{"i":5,"t":21.75,"v":320},{"i":5,"t":22.5,"v":150},{"i":5,"t":23.25,"v":290},{"i":5,"t":24,"v":210},{"i":5,"t":24.75,"v":370},{"i":5,"t":25.5,"v":170},{"i":5,"t":26.25,"v":260},{"i":5,"t":27,"v":190},{"i":5,"t":27.75,"v":300},{"i":5,"t":28.5,"v":160},{"i":5,"t":29.25,"v":330},{"i":5,"t":30,"v":220},{"i":5,"t":30.75,"v":250},{"i":5,"t":31.5,"v":180},{"i":5,"t":32.25,"v":340},{"i":5,"t":33,"v":150},{"i":5,"t":33.75,"v":280},{"i":5,"t":34.5,"v":200},{"i":5,"t":35.25,"v":310},{"i":5,"t":36,"v":170},{"i":5,"t":36.75,"v":350},{"i":5,"t":37.5,"v":190},{"i":5,"t":38.25,"v":260},{"i":5,"t":39,"v":160},{"i":5,"t":39.75,"v":300},{"i":5,"t":40.5,"v":210},{"i":5,"t":41.25,"v":330},{"i":5,"t":42,"v":180},{"i":5,"t":42.75,"v":270},{"i":5,"t":43.5,"v":150},{"i":5,"t":44.25,"v":320},{"i":5,"t":45,"v":240}],
"cI":[{"i":0,"t":0,"v":80},{"i":0,"t":4.3,"v":80},{"i":0,"t":6,"v":85},{"i":0,"t":10,"v":82},{"i":0,"t":15,"v":78},{"i":0,"t":20,"v":78},{"i":0,"t":25,"v":75},{"i":0,"t":30,"v":72},{"i":0,"t":35,"v":72},{"i":0,"t":40,"v":72},{"i":0,"t":45,"v":72},
{"i":1,"t":0,"v":100},{"i":1,"t":1.5,"v":110},{"i":1,"t":3,"v":105},{"i":1,"t":4.3,"v":110},{"i":1,"t":6,"v":150},{"i":1,"t":7.5,"v":170},{"i":1,"t":9,"v":180},{"i":1,"t":10.5,"v":185},{"i":1,"t":12,"v":175},{"i":1,"t":13.5,"v":140},{"i":1,"t":15,"v":120},{"i":1,"t":16.5,"v":115},{"i":1,"t":18,"v":110},{"i":1,"t":19.5,"v":115},{"i":1,"t":21,"v":110},{"i":1,"t":22.5,"v":115},{"i":1,"t":24,"v":120},{"i":1,"t":24.9,"v":110},{"i":1,"t":25.2,"v":105},{"i":1,"t":28,"v":110},{"i":1,"t":31,"v":115},{"i":1,"t":34,"v":110},{"i":1,"t":37,"v":115},{"i":1,"t":40,"v":110},{"i":1,"t":43,"v":120},{"i":1,"t":45,"v":115},
{"i":2,"t":0,"v":80},{"i":2,"t":1.5,"v":85},{"i":2,"t":3,"v":80},{"i":2,"t":4.3,"v":90},{"i":2,"t":6,"v":95},{"i":2,"t":7.5,"v":90},{"i":2,"t":9,"v":85},{"i":2,"t":10.5,"v":90},{"i":2,"t":12,"v":95},{"i":2,"t":13.5,"v":90},{"i":2,"t":15,"v":85},{"i":2,"t":16.5,"v":90},{"i":2,"t":18,"v":95},{"i":2,"t":19.5,"v":90},{"i":2,"t":21,"v":85},{"i":2,"t":22.5,"v":90},{"i":2,"t":24,"v":95},{"i":2,"t":24.9,"v":90},{"i":2,"t":25.2,"v":85},{"i":2,"t":28,"v":90},{"i":2,"t":31,"v":80},{"i":2,"t":34,"v":85},{"i":2,"t":37,"v":90},{"i":2,"t":40,"v":85},{"i":2,"t":43,"v":80},{"i":2,"t":45,"v":90},
{"i":3,"t":0,"v":40},{"i":3,"t":1.5,"v":45},{"i":3,"t":3,"v":50},{"i":3,"t":4.3,"v":45},{"i":3,"t":6,"v":50},{"i":3,"t":7.5,"v":45},{"i":3,"t":9,"v":40},{"i":3,"t":10.5,"v":50},{"i":3,"t":12,"v":45},{"i":3,"t":13.5,"v":50},{"i":3,"t":15,"v":45},{"i":3,"t":16.5,"v":40},{"i":3,"t":18,"v":50},{"i":3,"t":19.5,"v":45},{"i":3,"t":21,"v":40},{"i":3,"t":22.5,"v":50},{"i":3,"t":24,"v":45},{"i":3,"t":24.9,"v":40},{"i":3,"t":25.2,"v":45},{"i":3,"t":28,"v":50},{"i":3,"t":31,"v":40},{"i":3,"t":34,"v":45},{"i":3,"t":37,"v":50},{"i":3,"t":40,"v":40},{"i":3,"t":43,"v":45},{"i":3,"t":45,"v":50}],
"dV":[{"i":0,"t":0,"v":195},{"i":0,"t":4.3,"v":200},{"i":0,"t":6,"v":210},{"i":0,"t":10,"v":200},{"i":0,"t":15,"v":195},{"i":0,"t":20,"v":200},{"i":0,"t":22,"v":215},{"i":0,"t":24,"v":232},{"i":0,"t":25.2,"v":205},{"i":0,"t":30,"v":195},{"i":0,"t":35,"v":190},{"i":0,"t":40,"v":195},{"i":0,"t":45,"v":200},
{"i":1,"t":0,"v":280},{"i":1,"t":1.5,"v":300},{"i":1,"t":3,"v":290},{"i":1,"t":4.3,"v":600},{"i":1,"t":6,"v":535},{"i":1,"t":7.5,"v":445},{"i":1,"t":9,"v":360},{"i":1,"t":10.5,"v":330},{"i":1,"t":12,"v":340},{"i":1,"t":13.5,"v":320},{"i":1,"t":15,"v":330},{"i":1,"t":16.5,"v":310},{"i":1,"t":18,"v":330},{"i":1,"t":19.5,"v":350},{"i":1,"t":21,"v":400},{"i":1,"t":22.5,"v":440},{"i":1,"t":24,"v":490},{"i":1,"t":24.9,"v":480},{"i":1,"t":25.2,"v":290},{"i":1,"t":28,"v":280},{"i":1,"t":31,"v":300},{"i":1,"t":34,"v":285},{"i":1,"t":37,"v":290},{"i":1,"t":40,"v":280},{"i":1,"t":43,"v":300},{"i":1,"t":45,"v":310},
{"i":2,"t":0,"v":250},{"i":2,"t":1.5,"v":270},{"i":2,"t":3,"v":260},{"i":2,"t":4.3,"v":280},{"i":2,"t":6,"v":300},{"i":2,"t":7.5,"v":330},{"i":2,"t":9,"v":340},{"i":2,"t":10.5,"v":350},{"i":2,"t":12,"v":335},{"i":2,"t":13.5,"v":345},{"i":2,"t":15,"v":340},{"i":2,"t":16.5,"v":335},{"i":2,"t":18,"v":330},{"i":2,"t":19.5,"v":345},{"i":2,"t":21,"v":340},{"i":2,"t":22.5,"v":330},{"i":2,"t":24,"v":320},{"i":2,"t":24.9,"v":300},{"i":2,"t":25.2,"v":240},{"i":2,"t":28,"v":250},{"i":2,"t":31,"v":240},{"i":2,"t":34,"v":255},{"i":2,"t":37,"v":245},{"i":2,"t":40,"v":250},{"i":2,"t":43,"v":240},{"i":2,"t":45,"v":250},
{"i":3,"t":0,"v":170},{"i":3,"t":1.5,"v":180},{"i":3,"t":3,"v":175},{"i":3,"t":4.3,"v":180},{"i":3,"t":6,"v":190},{"i":3,"t":7.5,"v":175},{"i":3,"t":9,"v":180},{"i":3,"t":10.5,"v":170},{"i":3,"t":12,"v":185},{"i":3,"t":13.5,"v":175},{"i":3,"t":15,"v":180},{"i":3,"t":16.5,"v":170},{"i":3,"t":18,"v":185},{"i":3,"t":19.5,"v":175},{"i":3,"t":21,"v":190},{"i":3,"t":22.5,"v":200},{"i":3,"t":24,"v":210},{"i":3,"t":24.9,"v":200},{"i":3,"t":25.2,"v":170},{"i":3,"t":28,"v":180},{"i":3,"t":31,"v":175},{"i":3,"t":34,"v":170},{"i":3,"t":37,"v":180},{"i":3,"t":40,"v":175},{"i":3,"t":43,"v":170},{"i":3,"t":45,"v":180},
{"i":4,"t":0,"v":90},{"i":4,"t":1.5,"v":100},{"i":4,"t":3,"v":95},{"i":4,"t":4.3,"v":100},{"i":4,"t":6,"v":110},{"i":4,"t":7.5,"v":100},{"i":4,"t":9,"v":105},{"i":4,"t":10.5,"v":100},{"i":4,"t":12,"v":95},{"i":4,"t":13.5,"v":105},{"i":4,"t":15,"v":100},{"i":4,"t":16.5,"v":95},{"i":4,"t":18,"v":100},{"i":4,"t":19.5,"v":105},{"i":4,"t":21,"v":100},{"i":4,"t":22.5,"v":95},{"i":4,"t":24,"v":100},{"i":4,"t":24.9,"v":95},{"i":4,"t":25.2,"v":80},{"i":4,"t":28,"v":85},{"i":4,"t":31,"v":80},{"i":4,"t":34,"v":85},{"i":4,"t":37,"v":80},{"i":4,"t":40,"v":85},{"i":4,"t":43,"v":80},{"i":4,"t":45,"v":85}],
"dA":[{"i":0,"t":0,"v":170},{"i":0,"t":4.2,"v":172},{"i":0,"t":6,"v":175},{"i":0,"t":10,"v":170},{"i":0,"t":15,"v":172},{"i":0,"t":20,"v":168},{"i":0,"t":25,"v":166},{"i":0,"t":30,"v":162},{"i":0,"t":35,"v":165},{"i":0,"t":40,"v":163},{"i":0,"t":45,"v":168},
{"i":1,"t":0,"v":240},{"i":1,"t":0.8,"v":200},{"i":1,"t":1.6,"v":280},{"i":1,"t":2.4,"v":210},{"i":1,"t":3.2,"v":260},{"i":1,"t":4.2,"v":330},{"i":1,"t":6,"v":330},{"i":1,"t":7,"v":240},{"i":1,"t":8,"v":270},{"i":1,"t":9,"v":220},{"i":1,"t":10,"v":260},{"i":1,"t":11,"v":230},{"i":1,"t":12,"v":280},{"i":1,"t":13,"v":240},{"i":1,"t":14,"v":350},{"i":1,"t":15,"v":230},{"i":1,"t":16,"v":260},{"i":1,"t":17,"v":220},{"i":1,"t":18,"v":270},{"i":1,"t":19,"v":240},{"i":1,"t":20,"v":260},{"i":1,"t":21,"v":300},{"i":1,"t":22,"v":250},{"i":1,"t":23,"v":240},{"i":1,"t":24,"v":310},{"i":1,"t":24.9,"v":230},{"i":1,"t":25.2,"v":240},{"i":1,"t":26.5,"v":270},{"i":1,"t":28,"v":220},{"i":1,"t":29.5,"v":260},{"i":1,"t":31,"v":230},{"i":1,"t":32.5,"v":270},{"i":1,"t":34,"v":220},{"i":1,"t":35.5,"v":250},{"i":1,"t":37,"v":240},{"i":1,"t":38.5,"v":270},{"i":1,"t":40,"v":220},{"i":1,"t":41.5,"v":260},{"i":1,"t":43,"v":230},{"i":1,"t":44.5,"v":250},{"i":1,"t":45,"v":290},
{"i":2,"t":0,"v":180},{"i":2,"t":0.8,"v":210},{"i":2,"t":1.6,"v":170},{"i":2,"t":2.4,"v":220},{"i":2,"t":3.2,"v":190},{"i":2,"t":4.2,"v":200},{"i":2,"t":6,"v":200},{"i":2,"t":7,"v":180},{"i":2,"t":8,"v":210},{"i":2,"t":9,"v":175},{"i":2,"t":10,"v":205},{"i":2,"t":11,"v":185},{"i":2,"t":12,"v":215},{"i":2,"t":13,"v":180},{"i":2,"t":14,"v":200},{"i":2,"t":15,"v":190},{"i":2,"t":16,"v":210},{"i":2,"t":17,"v":175},{"i":2,"t":18,"v":205},{"i":2,"t":19,"v":185},{"i":2,"t":20,"v":200},{"i":2,"t":21,"v":180},{"i":2,"t":22,"v":210},{"i":2,"t":23,"v":190},{"i":2,"t":24,"v":205},{"i":2,"t":24.9,"v":180},{"i":2,"t":25.2,"v":190},{"i":2,"t":26.5,"v":210},{"i":2,"t":28,"v":180},{"i":2,"t":29.5,"v":205},{"i":2,"t":31,"v":185},{"i":2,"t":32.5,"v":215},{"i":2,"t":34,"v":180},{"i":2,"t":35.5,"v":200},{"i":2,"t":37,"v":190},{"i":2,"t":38.5,"v":210},{"i":2,"t":40,"v":175},{"i":2,"t":41.5,"v":205},{"i":2,"t":43,"v":190},{"i":2,"t":44.5,"v":200},{"i":2,"t":45,"v":185},
{"i":3,"t":0,"v":120},{"i":3,"t":0.8,"v":100},{"i":3,"t":1.6,"v":140},{"i":3,"t":2.4,"v":110},{"i":3,"t":3.2,"v":130},{"i":3,"t":4.2,"v":120},{"i":3,"t":6,"v":130},{"i":3,"t":7,"v":110},{"i":3,"t":8,"v":140},{"i":3,"t":9,"v":100},{"i":3,"t":10,"v":135},{"i":3,"t":11,"v":115},{"i":3,"t":12,"v":125},{"i":3,"t":13,"v":105},{"i":3,"t":14,"v":140},{"i":3,"t":15,"v":110},{"i":3,"t":16,"v":130},{"i":3,"t":17,"v":100},{"i":3,"t":18,"v":135},{"i":3,"t":19,"v":115},{"i":3,"t":20,"v":125},{"i":3,"t":21,"v":110},{"i":3,"t":22,"v":140},{"i":3,"t":23,"v":105},{"i":3,"t":24,"v":130},{"i":3,"t":24.9,"v":115},{"i":3,"t":25.2,"v":120},{"i":3,"t":26.5,"v":100},{"i":3,"t":28,"v":135},{"i":3,"t":29.5,"v":110},{"i":3,"t":31,"v":125},{"i":3,"t":32.5,"v":95},{"i":3,"t":34,"v":140},{"i":3,"t":35.5,"v":110},{"i":3,"t":37,"v":130},{"i":3,"t":38.5,"v":100},{"i":3,"t":40,"v":125},{"i":3,"t":41.5,"v":110},{"i":3,"t":43,"v":135},{"i":3,"t":44.5,"v":100},{"i":3,"t":45,"v":120},
{"i":4,"t":0,"v":150},{"i":4,"t":0.8,"v":130},{"i":4,"t":1.6,"v":160},{"i":4,"t":2.4,"v":125},{"i":4,"t":3.2,"v":155},{"i":4,"t":4.2,"v":140},{"i":4,"t":6,"v":150},{"i":4,"t":7,"v":130},{"i":4,"t":8,"v":165},{"i":4,"t":9,"v":140},{"i":4,"t":10,"v":155},{"i":4,"t":11,"v":125},{"i":4,"t":12,"v":160},{"i":4,"t":13,"v":135},{"i":4,"t":14,"v":150},{"i":4,"t":15,"v":130},{"i":4,"t":16,"v":165},{"i":4,"t":17,"v":140},{"i":4,"t":18,"v":155},{"i":4,"t":19,"v":125},{"i":4,"t":20,"v":160},{"i":4,"t":21,"v":135},{"i":4,"t":22,"v":150},{"i":4,"t":23,"v":140},{"i":4,"t":24,"v":160},{"i":4,"t":24.9,"v":130},{"i":4,"t":25.2,"v":150},{"i":4,"t":26.5,"v":130},{"i":4,"t":28,"v":160},{"i":4,"t":29.5,"v":125},{"i":4,"t":31,"v":155},{"i":4,"t":32.5,"v":140},{"i":4,"t":34,"v":150},{"i":4,"t":35.5,"v":130},{"i":4,"t":37,"v":165},{"i":4,"t":38.5,"v":135},{"i":4,"t":40,"v":155},{"i":4,"t":41.5,"v":125},{"i":4,"t":43,"v":160},{"i":4,"t":44.5,"v":140},{"i":4,"t":45,"v":150},
{"i":5,"t":0,"v":200},{"i":5,"t":0.7,"v":260},{"i":5,"t":1.4,"v":150},{"i":5,"t":2.1,"v":230},{"i":5,"t":2.8,"v":290},{"i":5,"t":3.5,"v":170},{"i":5,"t":4.2,"v":350},{"i":5,"t":6,"v":260},{"i":5,"t":6.75,"v":160},{"i":5,"t":7.5,"v":300},{"i":5,"t":8.25,"v":180},{"i":5,"t":9,"v":240},{"i":5,"t":9.75,"v":320},{"i":5,"t":10.5,"v":170},{"i":5,"t":11.25,"v":250},{"i":5,"t":12,"v":140},{"i":5,"t":12.75,"v":280},{"i":5,"t":13.5,"v":200},{"i":5,"t":14.25,"v":360},{"i":5,"t":15,"v":160},{"i":5,"t":15.75,"v":250},{"i":5,"t":16.5,"v":190},{"i":5,"t":17.25,"v":290},{"i":5,"t":18,"v":150},{"i":5,"t":18.75,"v":310},{"i":5,"t":19.5,"v":200},{"i":5,"t":20.25,"v":240},{"i":5,"t":21,"v":170},{"i":5,"t":21.75,"v":330},{"i":5,"t":22.5,"v":150},{"i":5,"t":23.25,"v":270},{"i":5,"t":24,"v":200},{"i":5,"t":24.75,"v":300},{"i":5,"t":25.5,"v":160},{"i":5,"t":26.25,"v":250},{"i":5,"t":27,"v":180},{"i":5,"t":27.75,"v":340},{"i":5,"t":28.5,"v":150},{"i":5,"t":29.25,"v":280},{"i":5,"t":30,"v":210},{"i":5,"t":30.75,"v":240},{"i":5,"t":31.5,"v":170},{"i":5,"t":32.25,"v":310},{"i":5,"t":33,"v":140},{"i":5,"t":33.75,"v":270},{"i":5,"t":34.5,"v":190},{"i":5,"t":35.25,"v":290},{"i":5,"t":36,"v":160},{"i":5,"t":36.75,"v":320},{"i":5,"t":37.5,"v":180},{"i":5,"t":38.25,"v":250},{"i":5,"t":39,"v":150},{"i":5,"t":39.75,"v":300},{"i":5,"t":40.5,"v":200},{"i":5,"t":41.25,"v":330},{"i":5,"t":42,"v":170},{"i":5,"t":42.75,"v":260},{"i":5,"t":43.5,"v":140},{"i":5,"t":44.25,"v":290},{"i":5,"t":45,"v":310}],
"dI":[{"i":0,"t":0,"v":75},{"i":0,"t":4.3,"v":80},{"i":0,"t":6,"v":95},{"i":0,"t":10,"v":85},{"i":0,"t":15,"v":82},{"i":0,"t":16,"v":92},{"i":0,"t":17,"v":82},{"i":0,"t":20,"v":80},{"i":0,"t":25,"v":72},{"i":0,"t":30,"v":70},{"i":0,"t":35,"v":70},{"i":0,"t":40,"v":70},{"i":0,"t":45,"v":70},
{"i":1,"t":0,"v":110},{"i":1,"t":1.5,"v":115},{"i":1,"t":3,"v":120},{"i":1,"t":4.3,"v":372},{"i":1,"t":6,"v":300},{"i":1,"t":7.5,"v":225},{"i":1,"t":9,"v":185},{"i":1,"t":10.5,"v":182},{"i":1,"t":12,"v":180},{"i":1,"t":13.5,"v":185},{"i":1,"t":15,"v":182},{"i":1,"t":16.5,"v":255},{"i":1,"t":18,"v":197},{"i":1,"t":19.5,"v":200},{"i":1,"t":21,"v":205},{"i":1,"t":22.5,"v":215},{"i":1,"t":24,"v":260},{"i":1,"t":24.9,"v":250},{"i":1,"t":25.2,"v":110},{"i":1,"t":28,"v":115},{"i":1,"t":31,"v":120},{"i":1,"t":34,"v":115},{"i":1,"t":37,"v":110},{"i":1,"t":40,"v":115},{"i":1,"t":43,"v":120},{"i":1,"t":45,"v":115},
{"i":2,"t":0,"v":80},{"i":2,"t":1.5,"v":85},{"i":2,"t":3,"v":80},{"i":2,"t":4.3,"v":90},{"i":2,"t":6,"v":130},{"i":2,"t":7.5,"v":100},{"i":2,"t":9,"v":95},{"i":2,"t":10.5,"v":160},{"i":2,"t":12,"v":110},{"i":2,"t":13.5,"v":105},{"i":2,"t":15,"v":110},{"i":2,"t":16.5,"v":120},{"i":2,"t":18,"v":105},{"i":2,"t":19.5,"v":110},{"i":2,"t":21,"v":105},{"i":2,"t":22.5,"v":115},{"i":2,"t":24,"v":150},{"i":2,"t":24.9,"v":120},{"i":2,"t":25.2,"v":90},{"i":2,"t":28,"v":95},{"i":2,"t":31,"v":90},{"i":2,"t":34,"v":95},{"i":2,"t":37,"v":100},{"i":2,"t":40,"v":95},{"i":2,"t":43,"v":90},{"i":2,"t":45,"v":95},
{"i":3,"t":0,"v":40},{"i":3,"t":1.5,"v":45},{"i":3,"t":3,"v":50},{"i":3,"t":4.3,"v":45},{"i":3,"t":6,"v":60},{"i":3,"t":7.5,"v":50},{"i":3,"t":9,"v":45},{"i":3,"t":10.5,"v":50},{"i":3,"t":12,"v":55},{"i":3,"t":13.5,"v":50},{"i":3,"t":15,"v":45},{"i":3,"t":16.5,"v":50},{"i":3,"t":18,"v":55},{"i":3,"t":19.5,"v":50},{"i":3,"t":21,"v":45},{"i":3,"t":22.5,"v":50},{"i":3,"t":24,"v":55},{"i":3,"t":24.9,"v":50},{"i":3,"t":25.2,"v":40},{"i":3,"t":28,"v":45},{"i":3,"t":31,"v":50},{"i":3,"t":34,"v":45},{"i":3,"t":37,"v":40},{"i":3,"t":40,"v":45},{"i":3,"t":43,"v":50},{"i":3,"t":45,"v":45}]
},
"columns":2,
"align":"each",
"bounds":"flush",
"spacing":{"row":0,"column":99},
"concat":[
   {"width":478,"height":99,"layer":[
    {"data":{"name":"aV"},"transform":[{"filter":"datum.i>0"}],"mark":{"type":"line","strokeWidth":1},"encoding":{"x":{"field":"t","type":"quantitative","scale":{"domain":[0,45],"nice":false,"zero":false},"axis":{"values":[0,5,10,15,20,25,30,35,40,45],"labels":false,"title":"Spinally Intact Rodents","titleX":255.5,"titleY":-143,"titleFontSize":27.5,"titleAlign":"center","titleBaseline":"middle"}},"y":{"field":"v","type":"quantitative","scale":{"domain":[0,880],"nice":false},"axis":{"values":[0,200,400,600,800],"labelExpr":"datum.value % 400 === 0 ? datum.label : ''","title":"a","titleAngle":0,"titleX":-26,"titleY":-36,"titleFontSize":32,"titleAlign":"center","titleBaseline":"middle"}},"detail":{"field":"i","type":"nominal"},"color":{"datum":"VBP","scale":{"domain":["VBP","ABP","ITBP","Stim","Artifact Removal Period"],"range":["#5670a0","#367c35","#cab443","#1a1a1a","#9b9b9b"]},"legend":{"orient":"none","legendX":81,"legendY":972,"direction":"horizontal","columns":5,"title":null,"symbolType":"square","symbolSize":1024,"symbolStrokeWidth":0,"symbolOpacity":1,"labelFontSize":28,"labelFont":"Liberation Sans","labelColor":"#222","labelOffset":6,"labelLimit":400,"columnPadding":30,"padding":0,"encode":{"symbols":{"update":{"fill":{"scale":"color","field":"value"},"stroke":{"value":"transparent"}}}}}}}},
    {"data":{"name":"aV"},"transform":[{"filter":"datum.i==0"}],"mark":{"type":"line","strokeWidth":5.5,"color":"#111"},"encoding":{"x":{"field":"t","type":"quantitative"},"y":{"field":"v","type":"quantitative"}}},
    {"data":{"values":[{"a":4.4,"b":5.95}]},"mark":"rect","encoding":{"x":{"field":"a","type":"quantitative"},"x2":{"field":"b"},"color":{"datum":"Artifact Removal Period"}}},
    {"data":{"values":[{}]},"mark":{"type":"rule","color":"#999","strokeWidth":1},"encoding":{"x":{"datum":0},"y":{"datum":0},"y2":{"datum":860}}}
   ]},
   {"width":478,"height":99,"layer":[
    {"data":{"name":"bV"},"transform":[{"filter":"datum.i>0"}],"mark":{"type":"line","strokeWidth":1},"encoding":{"x":{"field":"t","type":"quantitative","scale":{"domain":[0,45],"nice":false,"zero":false},"axis":{"values":[0,5,10,15,20,25,30,35,40,45],"labels":false,"title":"Spinalized Rodents","titleX":258,"titleY":-143,"titleFontSize":27.5,"titleAlign":"center","titleBaseline":"middle"}},"y":{"field":"v","type":"quantitative","scale":{"domain":[0,880],"nice":false},"axis":{"values":[0,200,400,600,800],"labelExpr":"datum.value === 0 ? '' : datum.value % 400 === 0 ? datum.label : ''","title":"b","titleAngle":0,"titleX":-18,"titleY":-36,"titleFontSize":32,"titleAlign":"center","titleBaseline":"middle"}},"detail":{"field":"i","type":"nominal"},"color":{"datum":"VBP"}}},
    {"data":{"name":"bV"},"transform":[{"filter":"datum.i==0"}],"mark":{"type":"line","strokeWidth":5.5,"color":"#111"},"encoding":{"x":{"field":"t","type":"quantitative"},"y":{"field":"v","type":"quantitative"}}},
    {"data":{"values":[{"a":4.4,"b":5.95}]},"mark":"rect","encoding":{"x":{"field":"a","type":"quantitative"},"x2":{"field":"b"},"color":{"datum":"Artifact Removal Period"}}},
    {"data":{"values":[{}]},"mark":{"type":"rule","color":"#999","strokeWidth":1},"encoding":{"x":{"datum":0},"y":{"datum":0},"y2":{"datum":860}}}
   ]},
   {"width":478,"height":139,"layer":[
    {"data":{"name":"aA"},"transform":[{"filter":"datum.i>0"}],"mark":{"type":"line","strokeWidth":1},"encoding":{"x":{"field":"t","type":"quantitative","scale":{"domain":[0,45],"nice":false,"zero":false},"axis":{"values":[0,5,10,15,20,25,30,35,40,45],"labels":false,"title":null}},"y":{"field":"v","type":"quantitative","scale":{"domain":[0,1236],"nice":false},"axis":{"values":[0,200,400,600,800],"labelExpr":"datum.value === 0 ? '' : datum.value % 400 === 0 ? datum.label : ''","title":["Pudendal","Nerve","Stimulation"],"titleAngle":0,"titleX":-122,"titleY":20,"titleFontSize":27.5,"titleLineHeight":33.5,"titleAlign":"center","titleBaseline":"middle"}},"detail":{"field":"i","type":"nominal"},"color":{"datum":"ABP"}}},
    {"data":{"name":"aA"},"transform":[{"filter":"datum.i==0"}],"mark":{"type":"line","strokeWidth":5.5,"color":"#111"},"encoding":{"x":{"field":"t","type":"quantitative"},"y":{"field":"v","type":"quantitative"}}},
    {"data":{"values":[{"a":4.4,"b":5.95}]},"mark":"rect","encoding":{"x":{"field":"a","type":"quantitative"},"x2":{"field":"b"},"color":{"datum":"Artifact Removal Period"}}},
    {"data":{"values":[{}]},"mark":{"type":"rule","color":"#999","strokeWidth":1},"encoding":{"x":{"datum":0},"y":{"datum":0},"y2":{"datum":860}}}
   ]},
   {"width":478,"height":139,"layer":[
    {"data":{"name":"bA"},"transform":[{"filter":"datum.i>0"}],"mark":{"type":"line","strokeWidth":1},"encoding":{"x":{"field":"t","type":"quantitative","scale":{"domain":[0,45],"nice":false,"zero":false},"axis":{"values":[0,5,10,15,20,25,30,35,40,45],"labels":false,"title":null}},"y":{"field":"v","type":"quantitative","scale":{"domain":[0,1236],"nice":false},"axis":{"values":[0,200,400,600,800],"labelExpr":"datum.value === 0 ? '' : datum.value % 400 === 0 ? datum.label : ''","title":null}},"detail":{"field":"i","type":"nominal"},"color":{"datum":"ABP"}}},
    {"data":{"name":"bA"},"transform":[{"filter":"datum.i==0"}],"mark":{"type":"line","strokeWidth":5.5,"color":"#111"},"encoding":{"x":{"field":"t","type":"quantitative"},"y":{"field":"v","type":"quantitative"}}},
    {"data":{"values":[{"a":4.4,"b":5.95}]},"mark":"rect","encoding":{"x":{"field":"a","type":"quantitative"},"x2":{"field":"b"},"color":{"datum":"Artifact Removal Period"}}},
    {"data":{"values":[{}]},"mark":{"type":"rule","color":"#999","strokeWidth":1},"encoding":{"x":{"datum":0},"y":{"datum":0},"y2":{"datum":860}}}
   ]},
   {"width":478,"height":138,"layer":[
    {"data":{"name":"aI"},"transform":[{"filter":"datum.i>0"}],"mark":{"type":"line","strokeWidth":1},"encoding":{"x":{"field":"t","type":"quantitative","scale":{"domain":[0,45],"nice":false,"zero":false},"axis":{"values":[0,5,10,15,20,25,30,35,40,45],"labelExpr":"datum.value % 10 === 0 ? datum.label : ''","title":null}},"y":{"field":"v","type":"quantitative","scale":{"domain":[0,1227],"nice":false},"axis":{"values":[0,200,400,600,800],"labelExpr":"datum.value % 400 === 0 ? datum.label : ''","title":"Arbitrary Perfusion Units","titleAngle":270,"titleX":-88,"titleY":196,"titleFontSize":23,"titleAlign":"center","titleBaseline":"middle"}},"detail":{"field":"i","type":"nominal"},"color":{"datum":"ITBP"}}},
    {"data":{"name":"aI"},"transform":[{"filter":"datum.i==0"}],"mark":{"type":"line","strokeWidth":5.5,"color":"#111"},"encoding":{"x":{"field":"t","type":"quantitative"},"y":{"field":"v","type":"quantitative"}}},
    {"data":{"values":[{"a":4.4,"b":5.95}]},"mark":"rect","encoding":{"x":{"field":"a","type":"quantitative"},"x2":{"field":"b"},"color":{"datum":"Artifact Removal Period"}}},
    {"data":{"values":[{}]},"mark":{"type":"rule","color":"#999","strokeWidth":1},"encoding":{"x":{"datum":0},"y":{"datum":0},"y2":{"datum":860}}}
   ]},
   {"width":478,"height":138,"layer":[
    {"data":{"name":"bI"},"transform":[{"filter":"datum.i>0"}],"mark":{"type":"line","strokeWidth":1},"encoding":{"x":{"field":"t","type":"quantitative","scale":{"domain":[0,45],"nice":false,"zero":false},"axis":{"values":[0,5,10,15,20,25,30,35,40,45],"labelExpr":"datum.value % 10 === 0 ? datum.label : ''","title":null}},"y":{"field":"v","type":"quantitative","scale":{"domain":[0,1227],"nice":false},"axis":{"values":[0,200,400,600,800],"labelExpr":"datum.value % 400 === 0 ? datum.label : ''","title":null}},"detail":{"field":"i","type":"nominal"},"color":{"datum":"ITBP"}}},
    {"data":{"name":"bI"},"transform":[{"filter":"datum.i==0"}],"mark":{"type":"line","strokeWidth":5.5,"color":"#111"},"encoding":{"x":{"field":"t","type":"quantitative"},"y":{"field":"v","type":"quantitative"}}},
    {"data":{"values":[{"a":4.4,"b":5.95}]},"mark":"rect","encoding":{"x":{"field":"a","type":"quantitative"},"x2":{"field":"b"},"color":{"datum":"Artifact Removal Period"}}},
    {"data":{"values":[{}]},"mark":{"type":"rule","color":"#999","strokeWidth":1},"encoding":{"x":{"datum":0},"y":{"datum":0},"y2":{"datum":860}}}
   ]},
   {"width":478,"height":29,"data":{"values":[]},"mark":"rect","encoding":{}},
   {"width":478,"height":29,"data":{"values":[]},"mark":"rect","encoding":{}},
   {"width":478,"height":7,"data":{"values":[{"a":5,"b":25}]},"mark":"rect","encoding":{"x":{"field":"a","type":"quantitative","scale":{"domain":[0,45],"nice":false,"zero":false},"axis":null},"x2":{"field":"b"},"color":{"datum":"Stim"}}},
   {"width":478,"height":7,"data":{"values":[{"a":5,"b":25}]},"mark":"rect","encoding":{"x":{"field":"a","type":"quantitative","scale":{"domain":[0,45],"nice":false,"zero":false},"axis":null},"x2":{"field":"b"},"color":{"datum":"Stim"}}},
   {"width":478,"height":81,"data":{"values":[]},"mark":"rect","encoding":{}},
   {"width":478,"height":81,"data":{"values":[]},"mark":"rect","encoding":{}},
   {"width":478,"height":99,"layer":[
    {"data":{"name":"cV"},"transform":[{"filter":"datum.i>0"}],"mark":{"type":"line","strokeWidth":1},"encoding":{"x":{"field":"t","type":"quantitative","scale":{"domain":[0,45],"nice":false,"zero":false},"axis":{"values":[0,5,10,15,20,25,30,35,40,45],"labels":false,"title":null}},"y":{"field":"v","type":"quantitative","scale":{"domain":[0,880],"nice":false},"axis":{"values":[0,200,400,600,800],"labelExpr":"datum.value % 400 === 0 ? datum.label : ''","title":"c","titleAngle":0,"titleX":-26,"titleY":-27,"titleFontSize":32,"titleAlign":"center","titleBaseline":"middle"}},"detail":{"field":"i","type":"nominal"},"color":{"datum":"VBP"}}},
    {"data":{"name":"cV"},"transform":[{"filter":"datum.i==0"}],"mark":{"type":"line","strokeWidth":5.5,"color":"#111"},"encoding":{"x":{"field":"t","type":"quantitative"},"y":{"field":"v","type":"quantitative"}}},
    {"data":{"values":[{"a":4.4,"b":5.95}]},"mark":"rect","encoding":{"x":{"field":"a","type":"quantitative"},"x2":{"field":"b"},"color":{"datum":"Artifact Removal Period"}}},
    {"data":{"values":[{}]},"mark":{"type":"rule","color":"#999","strokeWidth":1},"encoding":{"x":{"datum":0},"y":{"datum":0},"y2":{"datum":860}}}
   ]},
   {"width":478,"height":99,"layer":[
    {"data":{"name":"dV"},"transform":[{"filter":"datum.i>0"}],"mark":{"type":"line","strokeWidth":1},"encoding":{"x":{"field":"t","type":"quantitative","scale":{"domain":[0,45],"nice":false,"zero":false},"axis":{"values":[0,5,10,15,20,25,30,35,40,45],"labels":false,"title":null}},"y":{"field":"v","type":"quantitative","scale":{"domain":[0,880],"nice":false},"axis":{"values":[0,200,400,600,800],"labelExpr":"datum.value % 400 === 0 ? datum.label : ''","title":"d","titleAngle":0,"titleX":-18,"titleY":-27,"titleFontSize":32,"titleAlign":"center","titleBaseline":"middle"}},"detail":{"field":"i","type":"nominal"},"color":{"datum":"VBP"}}},
    {"data":{"name":"dV"},"transform":[{"filter":"datum.i==0"}],"mark":{"type":"line","strokeWidth":5.5,"color":"#111"},"encoding":{"x":{"field":"t","type":"quantitative"},"y":{"field":"v","type":"quantitative"}}},
    {"data":{"values":[{"a":4.4,"b":5.95}]},"mark":"rect","encoding":{"x":{"field":"a","type":"quantitative"},"x2":{"field":"b"},"color":{"datum":"Artifact Removal Period"}}},
    {"data":{"values":[{}]},"mark":{"type":"rule","color":"#999","strokeWidth":1},"encoding":{"x":{"datum":0},"y":{"datum":0},"y2":{"datum":860}}}
   ]},
   {"width":478,"height":139,"layer":[
    {"data":{"name":"cA"},"transform":[{"filter":"datum.i>0"}],"mark":{"type":"line","strokeWidth":1},"encoding":{"x":{"field":"t","type":"quantitative","scale":{"domain":[0,45],"nice":false,"zero":false},"axis":{"values":[0,5,10,15,20,25,30,35,40,45],"labels":false,"title":null}},"y":{"field":"v","type":"quantitative","scale":{"domain":[0,1236],"nice":false},"axis":{"values":[0,200,400,600,800],"labelExpr":"datum.value % 400 === 0 ? datum.label : ''","title":["Tibial","Nerve","Stimulation"],"titleAngle":0,"titleX":-122,"titleY":102,"titleFontSize":27.5,"titleLineHeight":33.5,"titleAlign":"center","titleBaseline":"middle"}},"detail":{"field":"i","type":"nominal"},"color":{"datum":"ABP"}}},
    {"data":{"name":"cA"},"transform":[{"filter":"datum.i==0"}],"mark":{"type":"line","strokeWidth":5.5,"color":"#111"},"encoding":{"x":{"field":"t","type":"quantitative"},"y":{"field":"v","type":"quantitative"}}},
    {"data":{"values":[{"a":4.4,"b":5.95}]},"mark":"rect","encoding":{"x":{"field":"a","type":"quantitative"},"x2":{"field":"b"},"color":{"datum":"Artifact Removal Period"}}},
    {"data":{"values":[{}]},"mark":{"type":"rule","color":"#999","strokeWidth":1},"encoding":{"x":{"datum":0},"y":{"datum":0},"y2":{"datum":860}}}
   ]},
   {"width":478,"height":139,"layer":[
    {"data":{"name":"dA"},"transform":[{"filter":"datum.i>0"}],"mark":{"type":"line","strokeWidth":1},"encoding":{"x":{"field":"t","type":"quantitative","scale":{"domain":[0,45],"nice":false,"zero":false},"axis":{"values":[0,5,10,15,20,25,30,35,40,45],"labels":false,"title":null}},"y":{"field":"v","type":"quantitative","scale":{"domain":[0,1236],"nice":false},"axis":{"values":[0,200,400,600,800],"labelExpr":"datum.value % 400 === 0 ? datum.label : ''","title":null}},"detail":{"field":"i","type":"nominal"},"color":{"datum":"ABP"}}},
    {"data":{"name":"dA"},"transform":[{"filter":"datum.i==0"}],"mark":{"type":"line","strokeWidth":5.5,"color":"#111"},"encoding":{"x":{"field":"t","type":"quantitative"},"y":{"field":"v","type":"quantitative"}}},
    {"data":{"values":[{"a":4.4,"b":5.95}]},"mark":"rect","encoding":{"x":{"field":"a","type":"quantitative"},"x2":{"field":"b"},"color":{"datum":"Artifact Removal Period"}}},
    {"data":{"values":[{}]},"mark":{"type":"rule","color":"#999","strokeWidth":1},"encoding":{"x":{"datum":0},"y":{"datum":0},"y2":{"datum":860}}}
   ]},
   {"width":478,"height":138,"layer":[
    {"data":{"name":"cI"},"transform":[{"filter":"datum.i>0"}],"mark":{"type":"line","strokeWidth":1},"encoding":{"x":{"field":"t","type":"quantitative","scale":{"domain":[0,45],"nice":false,"zero":false},"axis":{"values":[0,5,10,15,20,25,30,35,40,45],"labelExpr":"datum.value % 10 === 0 ? datum.label : ''","title":"Time (mins)","titleX":506,"titleY":63,"titleFontSize":19.5,"titleAlign":"center","titleBaseline":"middle"}},"y":{"field":"v","type":"quantitative","scale":{"domain":[0,1227],"nice":false},"axis":{"values":[0,200,400,600,800],"labelExpr":"datum.value % 400 === 0 ? datum.label : ''","title":null}},"detail":{"field":"i","type":"nominal"},"color":{"datum":"ITBP"}}},
    {"data":{"name":"cI"},"transform":[{"filter":"datum.i==0"}],"mark":{"type":"line","strokeWidth":5.5,"color":"#111"},"encoding":{"x":{"field":"t","type":"quantitative"},"y":{"field":"v","type":"quantitative"}}},
    {"data":{"values":[{"a":4.4,"b":5.95}]},"mark":"rect","encoding":{"x":{"field":"a","type":"quantitative"},"x2":{"field":"b"},"color":{"datum":"Artifact Removal Period"}}},
    {"data":{"values":[{}]},"mark":{"type":"rule","color":"#999","strokeWidth":1},"encoding":{"x":{"datum":0},"y":{"datum":0},"y2":{"datum":860}}}
   ]},
   {"width":478,"height":138,"layer":[
    {"data":{"name":"dI"},"transform":[{"filter":"datum.i>0"}],"mark":{"type":"line","strokeWidth":1},"encoding":{"x":{"field":"t","type":"quantitative","scale":{"domain":[0,45],"nice":false,"zero":false},"axis":{"values":[0,5,10,15,20,25,30,35,40,45],"labelExpr":"datum.value % 10 === 0 ? datum.label : ''","title":null}},"y":{"field":"v","type":"quantitative","scale":{"domain":[0,1227],"nice":false},"axis":{"values":[0,200,400,600,800],"labelExpr":"datum.value % 400 === 0 ? datum.label : ''","title":null}},"detail":{"field":"i","type":"nominal"},"color":{"datum":"ITBP"}}},
    {"data":{"name":"dI"},"transform":[{"filter":"datum.i==0"}],"mark":{"type":"line","strokeWidth":5.5,"color":"#111"},"encoding":{"x":{"field":"t","type":"quantitative"},"y":{"field":"v","type":"quantitative"}}},
    {"data":{"values":[{"a":4.4,"b":5.95}]},"mark":"rect","encoding":{"x":{"field":"a","type":"quantitative"},"x2":{"field":"b"},"color":{"datum":"Artifact Removal Period"}}},
    {"data":{"values":[{}]},"mark":{"type":"rule","color":"#999","strokeWidth":1},"encoding":{"x":{"datum":0},"y":{"datum":0},"y2":{"datum":860}}}
   ]},
   {"width":478,"height":29,"data":{"values":[]},"mark":"rect","encoding":{}},
   {"width":478,"height":29,"data":{"values":[]},"mark":"rect","encoding":{}},
   {"width":478,"height":7,"data":{"values":[{"a":5,"b":25}]},"mark":"rect","encoding":{"x":{"field":"a","type":"quantitative","scale":{"domain":[0,45],"nice":false,"zero":false},"axis":null},"x2":{"field":"b"},"color":{"datum":"Stim"}}},
   {"width":478,"height":7,"data":{"values":[{"a":5,"b":25}]},"mark":"rect","encoding":{"x":{"field":"a","type":"quantitative","scale":{"domain":[0,45],"nice":false,"zero":false},"axis":null},"x2":{"field":"b"},"color":{"datum":"Stim"}}}
]
}
